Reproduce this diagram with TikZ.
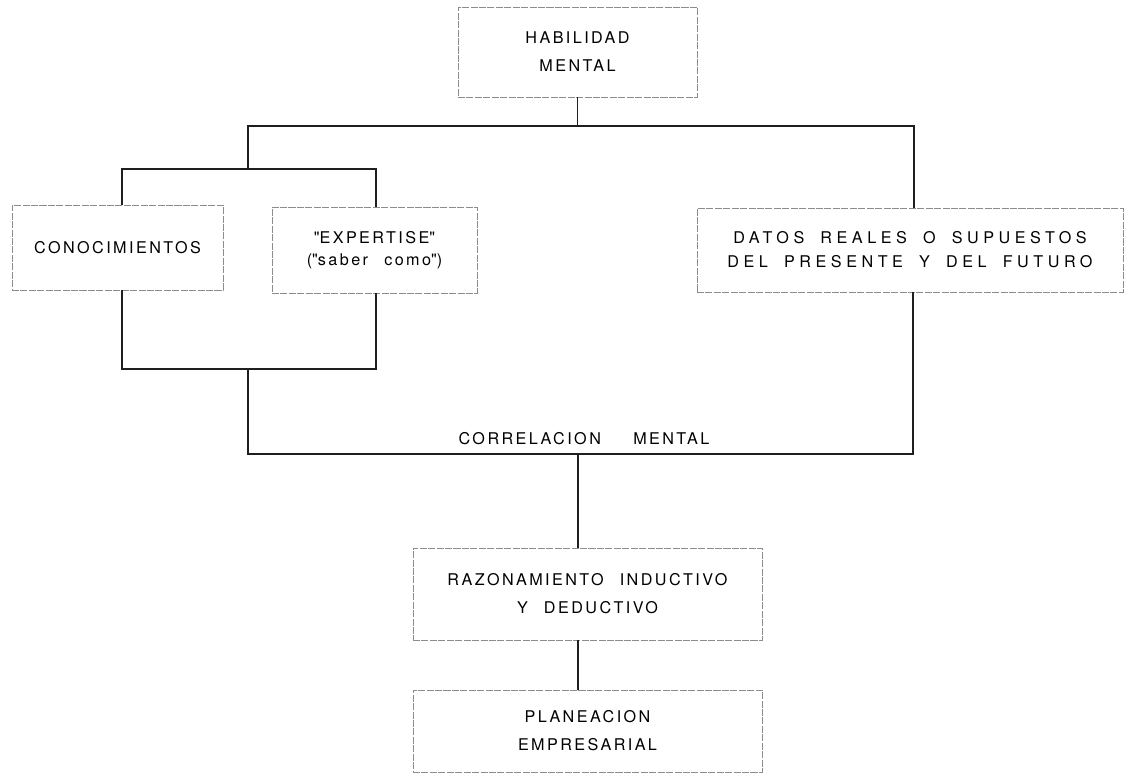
\documentclass[tikz,border=0pt]{standalone}
\usepackage{fontspec}
\setmainfont[LetterSpace=15]{TeX Gyre Heros}
\usepackage{tikz}
\usetikzlibrary{positioning,calc}
\definecolor{boxgray}{gray}{0.55}
\definecolor{linegray}{gray}{0.12}
\newlength\pxu
\setlength\pxu{0.025cm}
\newcommand\qt{\textquotedbl}
\tikzset{
  box/.style 2 args={draw=boxgray,line width=0.5pt,dash pattern=on 5pt off 1pt,
    minimum width=#1\pxu,minimum height=#2\pxu,inner sep=0pt,align=center},
  link/.style={draw=linegray,line width=0.9pt},
}
\begin{document}
\begin{tikzpicture}[x=0.025cm,y=-0.025cm,font=\fontsize{11.5}{20}\selectfont]
  \useasboundingbox (0,0) rectangle (1133,777);
  \node[box={239}{90}] (hab) at (577.5,52) {HABILIDAD\\MENTAL};
  \node[box={211}{85}] (con) at (117.5,247.5) {CONOCIMIENTOS};
  \node[box={205}{86}] (exp) at (374.5,250) {\qt EXPERTISE\qt\\[-4pt](\qt saber\quad como\qt)};
  \node[box={426}{84}] (dat) at (910,250)
    {\addfontfeature{LetterSpace=28}DATOS\quad REALES\quad O\quad SUPUESTOS\\[-3pt]
     \addfontfeature{LetterSpace=28}DEL\quad PRESENTE\quad Y\quad DEL\quad FUTURO};
  \node (cor) at (584,439) {CORRELACION\qquad MENTAL};
  \node[box={349}{92}] (raz) at (587.5,594) {RAZONAMIENTO\quad INDUCTIVO\\Y\quad DEDUCTIVO};
  \node[box={349}{82}] (pla) at (587.5,731) {PLANEACION\\EMPRESARIAL};
  % bus lines
  \coordinate (tl) at (248,126); \coordinate (tr) at (914,126);
  \coordinate (sl) at (122,169); \coordinate (sr) at (376,169);
  \coordinate (bl) at (122,369); \coordinate (br) at (376,369);
  \coordinate (ml) at (248,454); \coordinate (mr) at (913,454);
  \coordinate (mc) at (578,454);
  \draw[link] (hab.south) -- (hab.south |- tl);
  \draw[link] (tl |- sl) -- (tl) -- (tr) -- (tr |- dat.north);
  \draw[link] (sl |- con.north) -- (sl) -- (sr) -- (sr |- exp.north);
  \draw[link] (con.south -| bl) -- (bl) -- (br) -- (exp.south -| br);
  \draw[link] (ml |- bl) -- (ml) -- (mr) -- (mr |- dat.south);
  \draw[link] (mc) -- (mc |- raz.north);
  \draw[link] (raz.south -| mc) -- (pla.north -| mc);
\end{tikzpicture}
\end{document}
